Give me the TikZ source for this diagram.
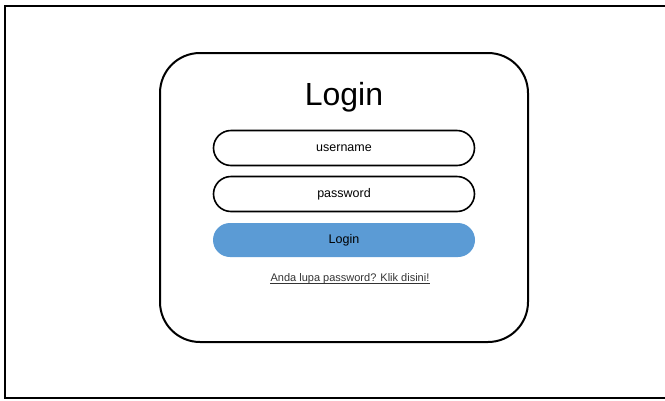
\documentclass[tikz,border=0pt]{standalone}
\usepackage{fontspec}
\setmainfont{Liberation Sans}
\usepackage{tikz}
\definecolor{btnblue}{HTML}{5B9BD5}
\definecolor{linkgray}{HTML}{333333}

\begin{document}
\begin{tikzpicture}[
		x=1pt,y=-1pt,
		frame/.style={draw,line width=2pt},
		card/.style={draw,line width=2pt,rounded corners=40pt,minimum width=368pt,minimum height=289pt},
		field/.style={draw,line width=1.6pt,rounded corners=17.5pt,minimum width=261pt,minimum height=35pt,font=\fontsize{12.5}{14}\selectfont},
		button/.style={fill=btnblue,rounded corners=17pt,minimum width=262pt,minimum height=34pt,font=\fontsize{12.5}{14}\selectfont}]
		\useasboundingbox (0,0) rectangle (665,400);
		\draw[frame] (4.5,6) rectangle (672,398);
		\node[card] (card) at (344,197.5) {};
		\node (title) at (344,97) {\fontsize{32}{36}\selectfont Login};

		\node[field] (user) at (344,148) {username};
		\node[field] (pass) at (344,194) {password};
		\node[button] (login) at (344,240) {Login};
		\node[text=linkgray,inner sep=0pt,font=\fontsize{11}{13}\selectfont] (lupa) at (350,279) {Anda lupa password? Klik disini!};
		\draw[linkgray,line width=0.6pt] ([yshift=-1pt]lupa.base west) -- ([yshift=-1pt]lupa.base east); % underline
\end{tikzpicture}
\end{document}
